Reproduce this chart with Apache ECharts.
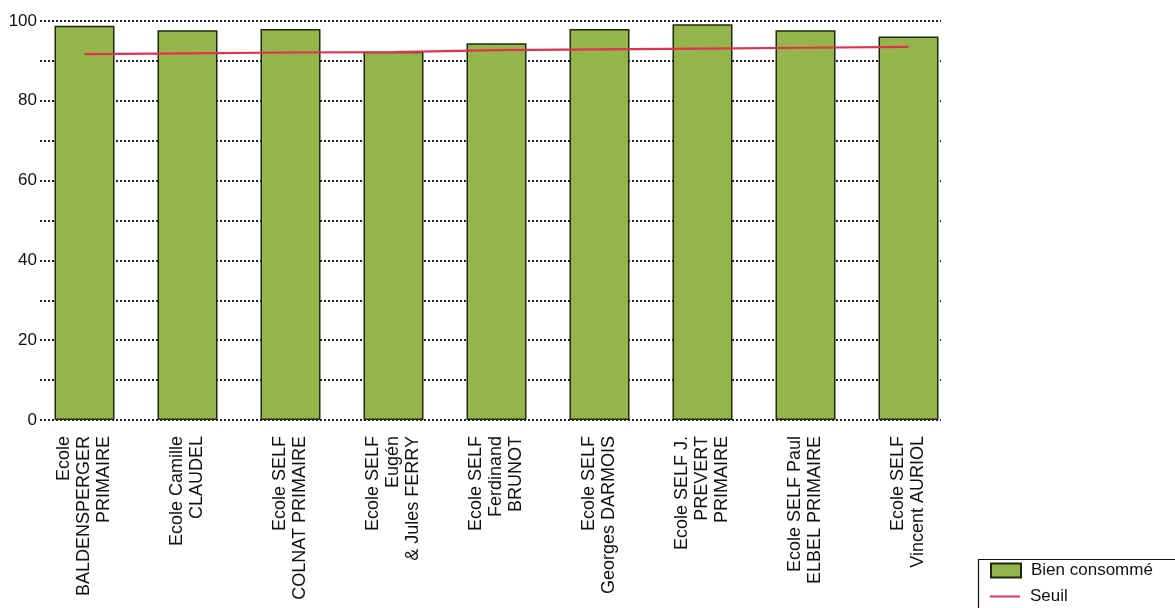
<!DOCTYPE html>
<html>
<head>
<meta charset="utf-8">
<script src="https://cdn.jsdelivr.net/npm/echarts@6/dist/echarts.min.js"></script>
<style>
html,body{margin:0;padding:0;background:#fff;}
#c{width:1175px;height:608px;}
</style>
</head>
<body>
<div id="c"></div>
<script>
var categories = [
  "Ecole\nBALDENSPERGER\nPRIMAIRE",
  "Ecole Camille\nCLAUDEL",
  "Ecole SELF\nCOLNAT PRIMAIRE",
  "Ecole SELF\nEugén\n& Jules FERRY",
  "Ecole SELF\nFerdinand\nBRUNOT",
  "Ecole SELF\nGeorges DARMOIS",
  "Ecole SELF J.\nPREVERT\nPRIMAIRE",
  "Ecole SELF Paul\nELBEL PRIMAIRE",
  "Ecole SELF\nVincent AURIOL"
];
var bienConsomme = [98.8, 97.7, 98.0, 92.3, 94.4, 98.0, 99.2, 97.7, 96.1];
var seuil = [91.7, 91.9, 92.1, 92.2, 92.7, 92.9, 93.1, 93.3, 93.5];
var yTicks = [0, 20, 40, 60, 80, 100];

var FONT = "'Liberation Sans', Arial, sans-serif";
var chart = echarts.init(document.getElementById('c'), null, {renderer: 'canvas'});
chart.setOption({
  animation: false,
  backgroundColor: '#ffffff',
  textStyle: {fontFamily: FONT},
  graphic: [{
    type: 'rect',
    left: 976, top: 557,
    shape: {width: 400, height: 100},
    style: {fill: 'none', stroke: '#111', lineWidth: 1.2},
    silent: true
  }],
  legend: [
    {
      left: 990, top: 562,
      padding: 0,
      itemWidth: 30, itemHeight: 14,
      textStyle: {fontFamily: FONT, fontSize: 17, color: '#111', padding: [0, 0, 0, 5]},
      data: [{name: 'Bien consommé', icon: 'rect'}]
    },
    {
      left: 990, top: 588,
      padding: 0,
      itemWidth: 30, itemHeight: 2,
      textStyle: {fontFamily: FONT, fontSize: 17, color: '#111', padding: [0, 0, 0, 5]},
      data: [{name: 'Seuil', icon: 'rect', itemStyle: {color: '#e2306a', borderWidth: 0}}]
    }
  ],
  grid: [
    {left: 40, right: 234, top: 21, bottom: 188, outerBoundsMode: 'none'},
    {left: 33, right: 215, top: 21, bottom: 188, outerBoundsMode: 'none'}
  ],
  xAxis: [
    {gridIndex: 0, type: 'value', show: false, min: 0, max: 1},
    {
      gridIndex: 1,
      type: 'category',
      data: categories,
      axisLine: {show: false},
      axisTick: {show: false},
      axisLabel: {
        rotate: 90,
        margin: 16,
        interval: 0,
        fontFamily: FONT,
        fontSize: 18,
        lineHeight: 20,
        color: '#111'
      }
    }
  ],
  yAxis: [
    {
      gridIndex: 0,
      type: 'value',
      min: 0, max: 100, interval: 10,
      axisLine: {show: false},
      axisTick: {show: false},
      axisLabel: {
        margin: 3,
        fontFamily: FONT,
        fontSize: 17,
        color: '#111',
        formatter: function (v) { return yTicks.indexOf(v) >= 0 ? String(v) : ''; }
      },
      splitLine: {show: true, lineStyle: {color: '#222', width: 2, type: [2, 2]}}
    },
    {gridIndex: 1, type: 'value', min: 0, max: 100, show: false, splitLine: {show: false}}
  ],
  series: [
    {
      name: 'Bien consommé',
      type: 'bar',
      xAxisIndex: 1, yAxisIndex: 1,
      data: bienConsomme,
      barWidth: 60,
      itemStyle: {color: '#93b54c', borderColor: '#1e2a0c', borderWidth: 1.5}
    },
    {
      name: 'Seuil',
      type: 'line',
      xAxisIndex: 1, yAxisIndex: 1,
      data: seuil,
      symbol: 'none',
      z: 5,
      lineStyle: {color: '#e2304f', width: 2.2},
      itemStyle: {color: '#e2304f'}
    }
  ]
});
</script>
</body>
</html>
